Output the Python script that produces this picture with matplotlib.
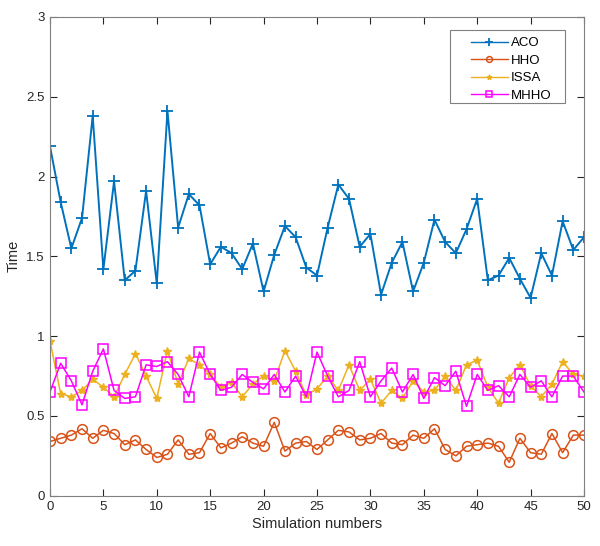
import numpy as np
import matplotlib.pyplot as plt
from matplotlib.patches import Rectangle

plt.rcParams['font.family'] = ['Liberation Sans', 'DejaVu Sans']

sims = np.arange(0, 51)

aco = [2.19, 1.84, 1.55, 1.74, 2.38, 1.42, 1.97, 1.35, 1.41, 1.91,
       1.33, 2.41, 1.68, 1.89, 1.82, 1.45, 1.56, 1.52, 1.42, 1.58,
       1.28, 1.51, 1.69, 1.62, 1.43, 1.38, 1.68, 1.95, 1.86, 1.56,
       1.64, 1.26, 1.46, 1.59, 1.28, 1.46, 1.73, 1.59, 1.52, 1.67,
       1.86, 1.35, 1.38, 1.49, 1.36, 1.24, 1.52, 1.38, 1.72, 1.54,
       1.62]
hho = [0.34, 0.36, 0.38, 0.42, 0.36, 0.41, 0.39, 0.32, 0.35, 0.29,
       0.24, 0.26, 0.35, 0.26, 0.27, 0.39, 0.30, 0.33, 0.37, 0.33,
       0.31, 0.46, 0.28, 0.33, 0.34, 0.29, 0.35, 0.41, 0.40, 0.35,
       0.36, 0.39, 0.33, 0.32, 0.38, 0.36, 0.42, 0.29, 0.25, 0.31,
       0.32, 0.33, 0.31, 0.21, 0.36, 0.27, 0.26, 0.39, 0.27, 0.38,
       0.38]
issa = [0.97, 0.64, 0.62, 0.66, 0.73, 0.68, 0.62, 0.76, 0.89, 0.75,
        0.61, 0.91, 0.70, 0.86, 0.82, 0.76, 0.68, 0.71, 0.62, 0.70,
        0.75, 0.72, 0.91, 0.78, 0.63, 0.67, 0.75, 0.66, 0.82, 0.66,
        0.73, 0.58, 0.66, 0.61, 0.72, 0.65, 0.66, 0.75, 0.66, 0.82,
        0.85, 0.68, 0.58, 0.74, 0.82, 0.69, 0.62, 0.70, 0.84, 0.76,
        0.75]
mhho = [0.65, 0.83, 0.72, 0.57, 0.78, 0.92, 0.66, 0.61, 0.62, 0.82,
        0.81, 0.84, 0.76, 0.62, 0.90, 0.76, 0.66, 0.68, 0.76, 0.71,
        0.67, 0.76, 0.65, 0.75, 0.62, 0.90, 0.75, 0.62, 0.66, 0.84,
        0.62, 0.72, 0.80, 0.65, 0.76, 0.61, 0.74, 0.69, 0.78, 0.56,
        0.76, 0.66, 0.69, 0.62, 0.76, 0.68, 0.72, 0.62, 0.75, 0.75,
        0.65]

fig = plt.figure(figsize=(6, 5.46), dpi=100)
ax = fig.add_axes([0.0833, 0.092, 0.89, 0.877])

ax.plot(sims, aco, color='#0072BD', marker='+', markersize=9, mew=1.3, lw=1.4, label='ACO')
ax.plot(sims, hho, color='#D95319', marker='o', markersize=7, mfc='none', mew=1.1, lw=1.1, label='HHO')
ax.plot(sims, issa, color='#EDB120', marker='*', markersize=6, lw=1.1, label='ISSA')
ax.plot(sims, mhho, color='#FF00FF', marker='s', markersize=7, mfc='none', mew=1.1, lw=1.1, label='MHHO')

ax.set_xlim(0, 50)
ax.set_ylim(0, 3)
ax.set_xticks(np.arange(0, 51, 5))
ax.set_yticks(np.arange(0, 3.01, 0.5))
ax.set_yticklabels(['0', '0.5', '1', '1.5', '2', '2.5', '3'])
ax.tick_params(direction='in', top=True, right=True, labelsize=9.5, colors='#262626',
               length=5, pad=4)
for s in ax.spines.values():
    s.set_color('#808080')
    s.set_linewidth(0.8)

ax.set_xlabel('Simulation numbers', fontsize=10.5, color='#262626', labelpad=3)
ax.set_ylabel('Time', fontsize=10.5, color='#262626', labelpad=4)

# legend box drawn separately (MATLAB-like wide padding)
ax.add_patch(Rectangle((0.749, 0.820), 0.215, 0.153, transform=ax.transAxes,
                       facecolor='white', edgecolor='#808080', lw=0.8, zorder=4))
leg = ax.legend(loc='upper left', bbox_to_anchor=(0.788, 0.958), frameon=False,
                fontsize=9.5, handlelength=2.8, borderpad=0, borderaxespad=0,
                labelspacing=0.4, markerscale=0.6, handletextpad=0.25)
leg.set_zorder(5)
for line in leg.get_lines():
    line.set_linewidth(1.0)

plt.savefig('out.png', dpi=100)
